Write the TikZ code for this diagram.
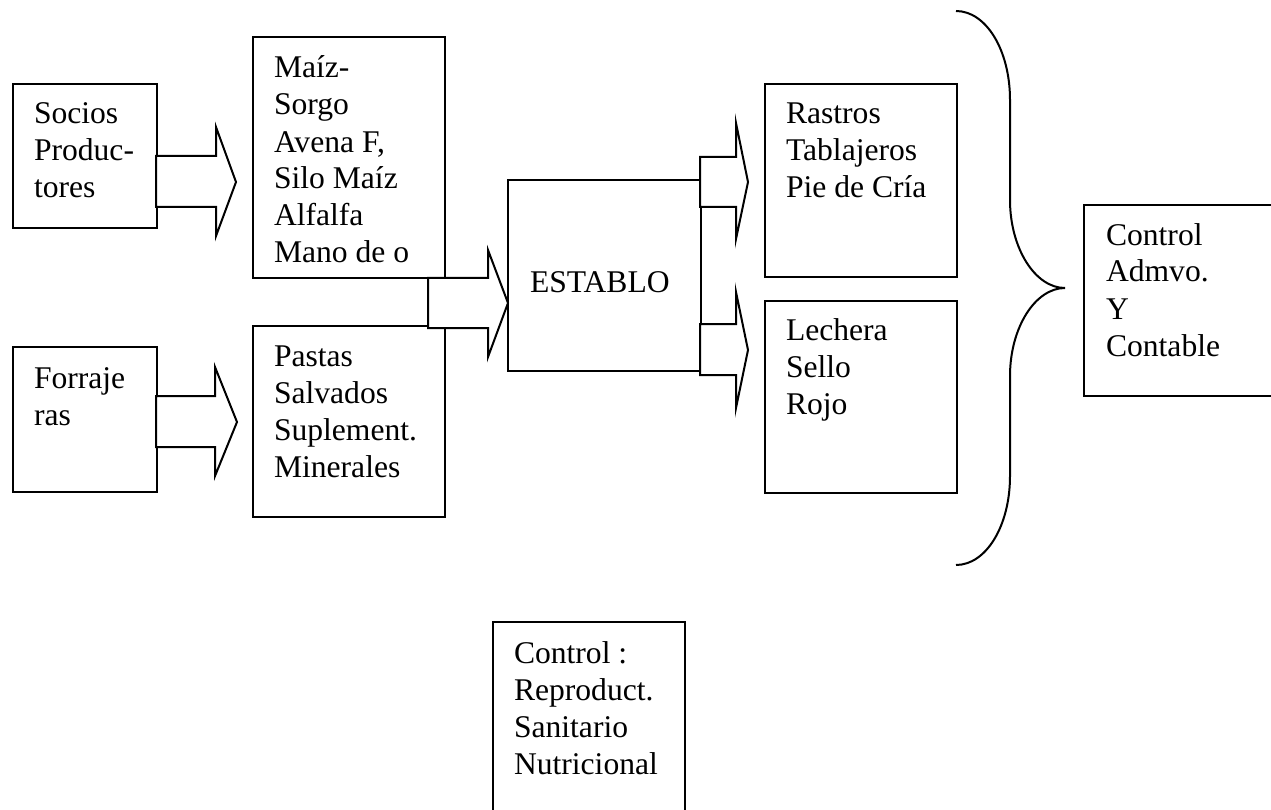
\documentclass[tikz,border=0pt]{standalone}
\usepackage{fontspec}
\setmainfont{Liberation Serif}
\begin{document}
\begin{tikzpicture}[x=1pt,y=-1pt,line width=2pt,
  box/.style={draw,rectangle,anchor=north west,inner sep=0pt,line join=miter},
  txt/.style={anchor=north west,inner sep=0pt,align=left,font=\fontsize{31.6}{37}\selectfont},
  blk/.style={draw,fill=white,line join=miter}]
\useasboundingbox (0,0) rectangle (1271,810);
\begin{scope}
\clip (0,0) rectangle (1271,810);
% boxes
\node[box,minimum width=144,minimum height=144] (soc) at (12,83) {};
\node[box,minimum width=144,minimum height=145] (forr) at (12,346) {};
\node[box,minimum width=192,minimum height=241] (maiz) at (252,36) {};
\node[box,minimum width=192,minimum height=191] (past) at (252,325) {};
\node[box,minimum width=193,minimum height=191] (est) at (507,179) {};
\node[box,minimum width=192,minimum height=193] (rast) at (764,83) {};
\node[box,minimum width=192,minimum height=192] (lech) at (764,300) {};
\node[box,minimum width=210,minimum height=191] (adm) at (1083,204) {};
\node[box,minimum width=192,minimum height=230] (ctl) at (492,621) {};
% texts
\node[txt] (soct) at (33,97.1) {\strut Socios\\Produc-\\tores};
\node[txt] (forrt) at (33,361.1) {\strut Forraje\\ras};
\node[txt] (maizt) at (273,51.1) {\strut Maíz-\\Sorgo\\Avena F,\\Silo Maíz\\Alfalfa\\Mano de o};
\node[txt] (pastt) at (273,339.1) {\strut Pastas\\Salvados\\Suplement.\\Minerales};
\node[txt,anchor=base west] (estt) at (529,292) {ESTABLO};
\node[txt] (rastt) at (785,97.1) {\strut Rastros\\Tablajeros\\Pie de Cría};
\node[txt] (lecht) at (785,313.1) {\strut Lechera\\Sello\\Rojo};
\node[txt] (admt) at (1105,218.1) {\strut Control\\Admvo.\\Y\\Contable};
\node[txt] (ctlt) at (513,636.1) {\strut Control :\\Reproduct.\\Sanitario\\Nutricional};
% block arrows
\draw[blk] (156,156) -- (216,156) -- (216,127) -- (236,182) -- (216,236) -- (216,207) -- (156,207) -- cycle;
\draw[blk] (156,396) -- (215,396) -- (215,367) -- (237,422) -- (215,476) -- (215,447) -- (156,447) -- cycle;
\draw[blk] (428,278) -- (488,278) -- (488,250) -- (508,303) -- (488,357) -- (488,328) -- (428,328) -- cycle;
\draw[blk] (700,157) -- (736,157) -- (736,123) -- (748,182) -- (736,239) -- (736,207) -- (700,207) -- cycle;
\draw[blk] (700,324) -- (736,324) -- (736,292) -- (748,350) -- (736,408) -- (736,375) -- (700,375) -- cycle;
% brace
\coordinate (btip) at (1065,288);
\draw (956,11) .. controls (986,11) and (1010,50) .. (1010,100) -- (1010,200)
  .. controls (1010,248) and (1035,288) .. (btip)
  .. controls (1035,288) and (1010,328) .. (1010,376) -- (1010,476)
  .. controls (1010,526) and (986,565) .. (956,565);
\end{scope}
\end{tikzpicture}
\end{document}
